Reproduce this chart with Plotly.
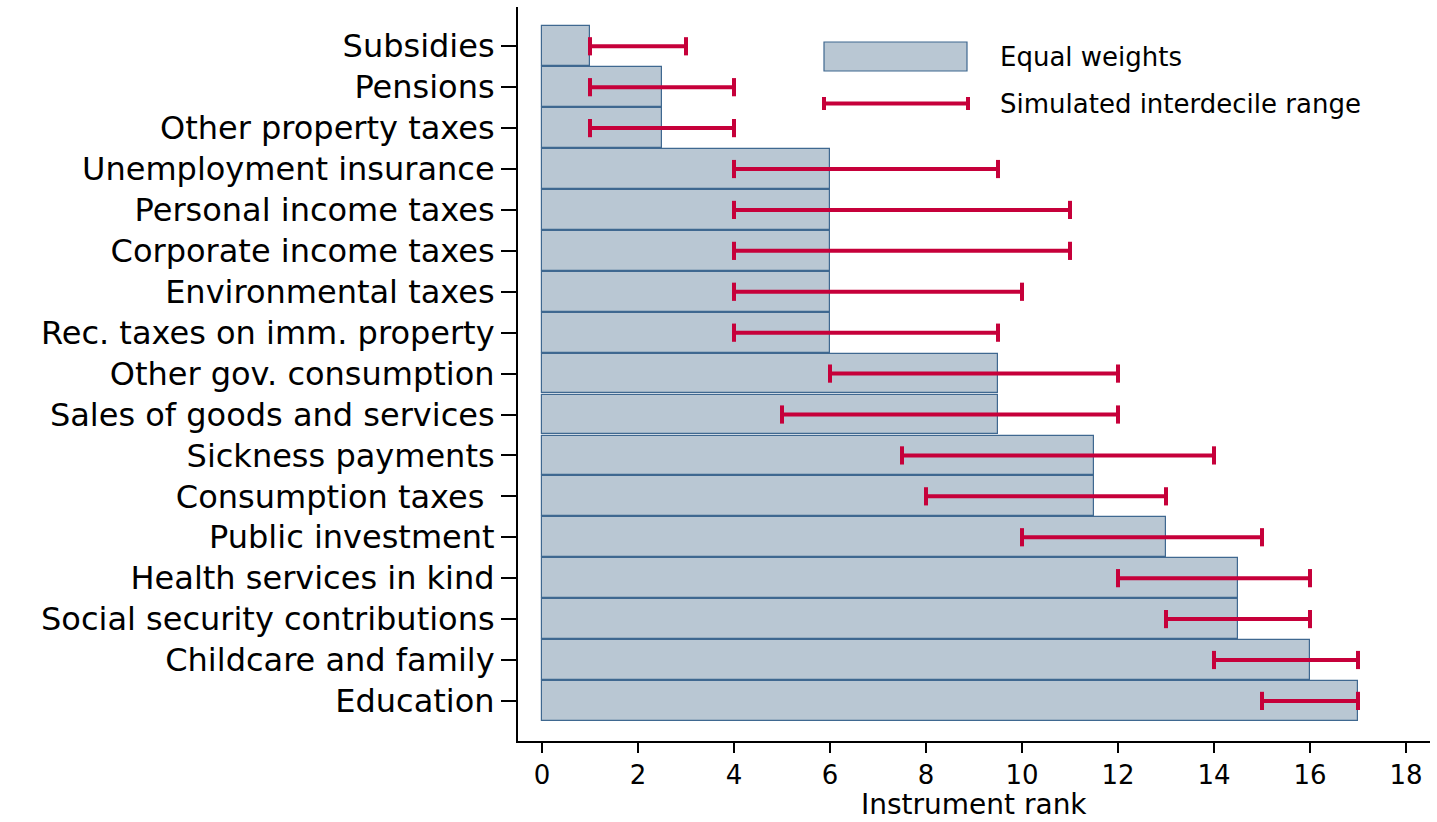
import plotly.graph_objects as go

# Policy instruments, listed top to bottom
instruments = [
    "Subsidies",
    "Pensions",
    "Other property taxes",
    "Unemployment insurance",
    "Personal income taxes",
    "Corporate income taxes",
    "Environmental taxes",
    "Rec. taxes on imm. property",
    "Other gov. consumption",
    "Sales of goods and services",
    "Sickness payments",
    "Consumption taxes ",
    "Public investment",
    "Health services in kind",
    "Social security contributions",
    "Childcare and family",
    "Education",
]

# Rank under equal weights
equal_weight_rank = [1, 2.5, 2.5, 6, 6, 6, 6, 6, 9.5, 9.5, 11.5, 11.5, 13, 14.5, 14.5, 16, 17]

# Simulated interdecile range of the rank
range_low = [1, 1, 1, 4, 4, 4, 4, 4, 6, 5, 7.5, 8, 10, 12, 13, 14, 15]
range_high = [3, 4, 4, 9.5, 11, 11, 10, 9.5, 12, 12, 14, 13, 15, 16, 16, 17, 17]

x_ticks = [0, 2, 4, 6, 8, 10, 12, 14, 16, 18]

BAR_FILL = "#B9C7D3"
BAR_EDGE = "#3F6890"
RANGE_RED = "#C6003A"
FONT = "DejaVu Sans"

pos = list(range(len(instruments)))

fig = go.Figure()

fig.add_trace(go.Bar(
    x=equal_weight_rank,
    y=pos,
    orientation="h",
    width=0.97,
    marker=dict(color=BAR_FILL, line=dict(color=BAR_EDGE, width=1.2)),
    hoverinfo="skip",
))

# Interdecile ranges: one segment per instrument
seg_x, seg_y = [], []
for p, lo, hi in zip(pos, range_low, range_high):
    seg_x += [lo, hi, None]
    seg_y += [p, p, None]

fig.add_trace(go.Scatter(
    x=seg_x, y=seg_y, mode="lines",
    line=dict(color=RANGE_RED, width=4),
    hoverinfo="skip",
))

# End caps of the ranges
fig.add_trace(go.Scatter(
    x=range_low + range_high,
    y=pos + pos,
    mode="markers",
    marker=dict(symbol="line-ns", size=13, line=dict(color=RANGE_RED, width=4)),
    hoverinfo="skip",
))

# Legend drawn by hand in paper coordinates
def px_x(v):
    return (v - 518) / 912

def px_y(v):
    return (741 - v) / 734

shapes = [
    dict(type="rect", xref="paper", yref="paper",
         x0=px_x(824), x1=px_x(967), y0=px_y(71), y1=px_y(42),
         fillcolor=BAR_FILL, line=dict(color=BAR_EDGE, width=1.2)),
    dict(type="line", xref="paper", yref="paper",
         x0=px_x(824), x1=px_x(968), y0=px_y(103.5), y1=px_y(103.5),
         line=dict(color=RANGE_RED, width=4)),
    dict(type="line", xref="paper", yref="paper",
         x0=px_x(824), x1=px_x(824), y0=px_y(97), y1=px_y(110),
         line=dict(color=RANGE_RED, width=4)),
    dict(type="line", xref="paper", yref="paper",
         x0=px_x(968), x1=px_x(968), y0=px_y(97), y1=px_y(110),
         line=dict(color=RANGE_RED, width=4)),
]

annotations = [
    dict(text="Equal weights", xref="paper", yref="paper",
         x=px_x(998), y=px_y(57), xanchor="left", yanchor="middle",
         showarrow=False, font=dict(family=FONT, size=26, color="black")),
    dict(text="Simulated interdecile range", xref="paper", yref="paper",
         x=px_x(998), y=px_y(104), xanchor="left", yanchor="middle",
         showarrow=False, font=dict(family=FONT, size=26, color="black")),
    # x-axis title
    dict(text="Instrument rank", xref="paper", yref="paper",
         x=0.5, y=px_y(822), xanchor="center", yanchor="bottom",
         borderpad=0,
         showarrow=False, font=dict(family=FONT, size=28, color="black")),
]

fig.update_layout(
    width=1437, height=822,
    margin=dict(l=518, r=7, t=7, b=81),
    paper_bgcolor="white", plot_bgcolor="white",
    showlegend=False,
    bargap=0,
    shapes=shapes,
    annotations=annotations,
    xaxis=dict(
        range=[-0.5, 18.5],
        tickvals=x_ticks,
        ticks="outside", ticklen=10, tickwidth=2, tickcolor="black",
        showline=True, linewidth=2, linecolor="black",
        showgrid=False, zeroline=False, automargin=False,
        tickfont=dict(family=FONT, size=26, color="black"),
    ),
    yaxis=dict(
        range=[16.98, -0.96],
        tickvals=pos, ticktext=instruments,
        ticks="outside", ticklen=15, tickwidth=2, tickcolor="black",
        showline=True, linewidth=2, linecolor="black",
        showgrid=False, zeroline=False, automargin=False,
        tickfont=dict(family=FONT, size=32, color="black"),
    ),
)

fig.write_html("out.html")
